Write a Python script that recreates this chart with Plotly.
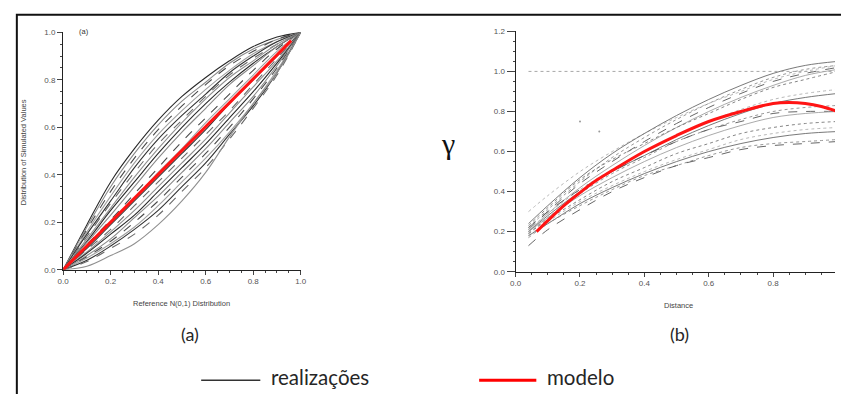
import plotly.graph_objects as go

# ---------------- data ----------------
# (a) P-P plot: simulated vs reference N(0,1) distribution
pp_x = [0.0, 0.1, 0.2, 0.3, 0.4, 0.5, 0.6, 0.7, 0.8, 0.9, 1.0]
pp_realizations = [
    [0, .19, .37, .51, .63, .73, .81, .88, .94, .98, 1.0],
    [0, .18, .35, .49, .61, .71, .79, .87, .93, .97, 1.0],
    [0, .17, .33, .47, .59, .69, .78, .86, .92, .97, 1.0],
    [0, .16, .31, .45, .57, .67, .76, .84, .91, .96, 1.0],
    [0, .15, .29, .43, .55, .65, .74, .83, .90, .96, 1.0],
    [0, .14, .28, .41, .53, .63, .73, .82, .89, .95, 1.0],
    [0, .13, .26, .39, .51, .62, .72, .81, .88, .95, 1.0],
    [0, .12, .25, .37, .49, .60, .70, .79, .87, .94, 1.0],
    [0, .115, .23, .35, .47, .58, .68, .78, .86, .94, 1.0],
    [0, .105, .21, .32, .43, .54, .64, .74, .84, .93, 1.0],
    [0, .10, .20, .30, .41, .51, .62, .72, .82, .92, 1.0],
    [0, .09, .19, .29, .39, .49, .59, .70, .80, .90, 1.0],
    [0, .085, .17, .27, .37, .47, .57, .67, .78, .89, 1.0],
    [0, .075, .16, .25, .35, .45, .55, .66, .77, .88, 1.0],
    [0, .07, .15, .23, .33, .43, .53, .64, .75, .87, 1.0],
    [0, .06, .13, .22, .31, .41, .51, .62, .73, .86, 1.0],
    [0, .055, .12, .20, .29, .39, .49, .60, .72, .85, 1.0],
    [0, .05, .11, .18, .27, .37, .47, .58, .70, .84, 1.0],
    [0, .04, .10, .17, .25, .35, .45, .57, .69, .83, 1.0],
    [0, .035, .09, .15, .23, .33, .43, .55, .68, .82, 1.0],
    [0, .015, .06, .11, .19, .29, .41, .56, .70, .83, 1.0],
]
pp_model_x = [0.0, 0.96]
pp_model_y = [0.0, 0.965]

# (b) variograms of the realizations and the model
vg_x = [0.04, 0.1, 0.2, 0.3, 0.4, 0.5, 0.6, 0.7, 0.8, 0.9, 1.0]
vg_realizations = [
    [0.30, 0.38, 0.50, 0.60, 0.69, 0.77, 0.84, 0.90, 0.96, 1.00, 1.03],
    [0.24, 0.33, 0.47, 0.59, 0.69, 0.78, 0.86, 0.93, 0.99, 1.03, 1.05],
    [0.22, 0.31, 0.45, 0.57, 0.67, 0.76, 0.84, 0.91, 0.97, 1.01, 1.03],
    [0.21, 0.30, 0.44, 0.55, 0.65, 0.74, 0.82, 0.89, 0.95, 0.99, 1.02],
    [0.20, 0.29, 0.42, 0.53, 0.63, 0.72, 0.80, 0.87, 0.93, 0.98, 1.01],
    [0.23, 0.32, 0.46, 0.56, 0.64, 0.72, 0.79, 0.86, 0.92, 0.96, 1.00],
    [0.21, 0.29, 0.41, 0.51, 0.60, 0.68, 0.75, 0.81, 0.86, 0.89, 0.91],
    [0.20, 0.28, 0.40, 0.50, 0.58, 0.66, 0.73, 0.79, 0.84, 0.87, 0.89],
    [0.19, 0.27, 0.39, 0.49, 0.57, 0.65, 0.71, 0.76, 0.80, 0.82, 0.83],
    [0.22, 0.30, 0.41, 0.50, 0.58, 0.65, 0.71, 0.75, 0.79, 0.80, 0.80],
    [0.20, 0.27, 0.38, 0.47, 0.55, 0.62, 0.68, 0.73, 0.77, 0.79, 0.80],
    [0.19, 0.26, 0.36, 0.45, 0.52, 0.59, 0.64, 0.69, 0.72, 0.74, 0.75],
    [0.18, 0.25, 0.35, 0.43, 0.50, 0.56, 0.61, 0.66, 0.69, 0.71, 0.72],
    [0.18, 0.24, 0.34, 0.42, 0.49, 0.55, 0.60, 0.64, 0.67, 0.69, 0.70],
    [0.17, 0.24, 0.33, 0.41, 0.48, 0.53, 0.58, 0.62, 0.64, 0.65, 0.66],
    [0.13, 0.21, 0.31, 0.40, 0.47, 0.53, 0.57, 0.61, 0.63, 0.64, 0.65],
]
vg_model_x = [0.065, 0.1, 0.15, 0.2, 0.25, 0.3, 0.4, 0.5, 0.6, 0.7, 0.8, 0.85, 0.9, 0.95, 1.0]
vg_model_y = [0.20, 0.255, 0.33, 0.395, 0.455, 0.505, 0.60, 0.68, 0.75, 0.80, 0.84, 0.845, 0.84, 0.825, 0.80]
sill_x = [0.04, 1.0]
sill_y = [1.0, 1.0]
stray_x = [0.2, 0.26]
stray_y = [0.75, 0.70]

# ---------------- figure ----------------
W, H = 841, 394
fig = go.Figure()

pp_colors = ["#2a2a2a", "#8a8a8a", "#4a4a4a", "#a0a0a0", "#333333", "#6a6a6a", "#909090"]
pp_dash = ["solid", "solid", "dash", "solid", "solid", "dash", "solid"]
for i, yv in enumerate(pp_realizations):
    fig.add_trace(go.Scatter(
        x=pp_x, y=yv, mode="lines", line_shape="spline",
        line=dict(color=pp_colors[i % len(pp_colors)], width=1.1,
                  dash=pp_dash[i % len(pp_dash)]),
        xaxis="x", yaxis="y", showlegend=False, hoverinfo="skip"))
fig.add_trace(go.Scatter(
    x=pp_model_x, y=pp_model_y, mode="lines",
    line=dict(color="#ff1414", width=3), xaxis="x", yaxis="y",
    showlegend=False))

vg_colors = ["#b0b0b0", "#6a6a6a", "#8a8a8a", "#555555", "#a0a0a0", "#777777"]
vg_dash = ["dot", "solid", "dot", "dash", "solid", "dot"]
for i, yv in enumerate(vg_realizations):
    fig.add_trace(go.Scatter(
        x=vg_x, y=yv, mode="lines", line_shape="spline",
        line=dict(color=vg_colors[i % len(vg_colors)], width=0.9,
                  dash=vg_dash[i % len(vg_dash)]),
        xaxis="x2", yaxis="y2", showlegend=False, hoverinfo="skip"))
fig.add_trace(go.Scatter(
    x=sill_x, y=sill_y, mode="lines",
    line=dict(color="#a8a8a8", width=1, dash="dot"),
    xaxis="x2", yaxis="y2", showlegend=False))
fig.add_trace(go.Scatter(
    x=stray_x, y=stray_y, mode="markers",
    marker=dict(color="#999999", size=2),
    xaxis="x2", yaxis="y2", showlegend=False))
fig.add_trace(go.Scatter(
    x=vg_model_x, y=vg_model_y, mode="lines", line_shape="spline",
    line=dict(color="#ff1414", width=3), xaxis="x2", yaxis="y2",
    showlegend=False))

tickfont = dict(family="Liberation Sans", size=8, color="#555555")
axis_common = dict(showgrid=False, zeroline=False, showline=True,
                   linecolor="#222222", linewidth=1.2, ticks="outside",
                   tickcolor="#444444", tickfont=tickfont, tickformat=".1f")

fig.update_layout(
    width=W, height=H, margin=dict(l=0, r=0, t=0, b=0),
    paper_bgcolor="white", plot_bgcolor="white",
    xaxis=dict(domain=[58 / W, 299 / W], range=[0, 1], dtick=0.2, ticklen=4,
               minor=dict(ticks="outside", dtick=0.05, ticklen=2, tickcolor="#444444"),
               anchor="y", **axis_common),
    yaxis=dict(domain=[1 - 272 / H, 1 - 29 / H], range=[0, 1], dtick=0.2, ticklen=5,
               minor=dict(ticks="outside", dtick=0.05, ticklen=2, tickcolor="#444444"),
               anchor="x", **axis_common),
    xaxis2=dict(domain=[517 / W, 1.0], range=[0, 0.9923], dtick=0.2, ticklen=4,
                minor=dict(ticks="outside", dtick=0.05, ticklen=2, tickcolor="#444444"),
                anchor="y2", **axis_common),
    yaxis2=dict(domain=[1 - 274 / H, 1 - 28 / H], range=[0, 1.2], dtick=0.2, ticklen=8,
                minor=dict(ticks="outside", dtick=0.05, ticklen=2, tickcolor="#444444"),
                anchor="x2", **axis_common),
)

def px(xp, yp):
    return xp / W, 1 - yp / H

def label(text, xp, yp, size, family="Liberation Sans", color="#444444", angle=0):
    x, y = px(xp, yp)
    fig.add_annotation(text=text, x=x, y=y, xref="paper", yref="paper",
                       showarrow=False, textangle=angle,
                       font=dict(family=family, size=size, color=color),
                       xanchor="center", yanchor="middle")

label("Distribution of Simulated Values", 18, 152, 7.5, angle=-90)
label("Reference N(0,1) Distribution", 178, 307, 7.5)
label("(a)", 79, 28, 7.5, color="#333333")
label("Distance", 682, 309, 7.5)
label("γ", 448, 143, 30, family="Liberation Serif", color="#111111")
label("(a)", 187, 338, 18, family="Lato", color="#262626")
label("(b)", 683, 338, 18, family="Lato", color="#262626")

# legend drawn beneath both panels
fig.add_shape(type="line", xref="paper", yref="paper",
              x0=198 / W, x1=258 / W, y0=1 - 385 / H, y1=1 - 385 / H,
              line=dict(color="#333333", width=1.5))
fig.add_shape(type="line", xref="paper", yref="paper",
              x0=480 / W, x1=538 / W, y0=1 - 385 / H, y1=1 - 385 / H,
              line=dict(color="#ff0000", width=3))
for text, xp in [("realizações", 267), ("modelo", 547)]:
    x, y = px(xp, 382)
    fig.add_annotation(text=text, x=x, y=y, xref="paper", yref="paper",
                       showarrow=False, xanchor="left", yanchor="middle",
                       font=dict(family="Lato", size=20.5, color="#262626"))

# outer frame around the figure
fig.add_shape(type="rect", xref="paper", yref="paper",
              x0=11 / W, x1=1.02, y0=-0.02, y1=1 - 11 / H,
              line=dict(color="#111111", width=2))

fig.write_html("out.html")
